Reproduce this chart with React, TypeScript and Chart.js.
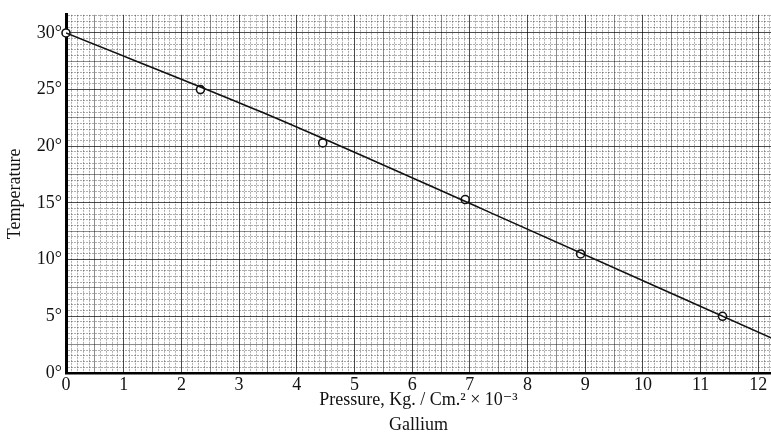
import React, { useEffect, useRef } from "react";
import { Chart, registerables } from "chart.js";

Chart.register(...registerables);

// Measured points (Pressure, Kg./Cm.² × 10⁻³ ; Temperature °C)
const pressure = [0, 2.33, 4.45, 6.92, 8.92, 11.38];
const temperature = [30, 25, 20.3, 15.3, 10.5, 5.0];

// Drawn curve through the points
const curvePressure = [0, 3.4, 7.2, 12.22];
const curveTemperature = [30, 23.0, 14.5, 3.1];

const xTickLabels = ["0", "1", "2", "3", "4", "5", "6", "7", "8", "9", "10", "11", "12"];
const yTickLabels = ["0°", "5°", "10°", "15°", "20°", "25°", "30°"];

const X_MAX = 12.22;
const Y_MAX = 31.6;
const FONT = "'Liberation Serif', 'DejaVu Serif', serif";

function level(v: number, major: number) {
  const r = v / major;
  if (Math.abs(r - Math.round(r)) < 1e-6) return 2;
  const h = v / (major / 2);
  if (Math.abs(h - Math.round(h)) < 1e-6) return 1;
  return 0;
}
const LEVEL_COLORS = ["rgba(0,0,0,0.32)", "rgba(0,0,0,0.45)", "rgba(0,0,0,0.7)"];

export default function App() {
  const ref = useRef<HTMLCanvasElement | null>(null);

  useEffect(() => {
    document.body.style.margin = "0";
    const canvas = ref.current;
    if (!canvas) return;
    const chart = new Chart(canvas, {
      type: "scatter",
      data: {
        datasets: [
          {
            label: "curve",
            data: curvePressure.map((x, i) => ({ x, y: curveTemperature[i] })),
            showLine: true,
            borderColor: "#111",
            borderWidth: 1.6,
            pointRadius: 0,
            cubicInterpolationMode: "monotone",
            fill: false,
          } as any,
          {
            label: "Gallium",
            data: pressure.map((x, i) => ({ x, y: temperature[i] })),
            showLine: false,
            clip: false,
            pointRadius: 4,
            pointBorderWidth: 1.6,
            pointBorderColor: "#111",
            pointBackgroundColor: "#fff",
          } as any,
        ],
      },
      options: {
        animation: false,
        responsive: false,
        maintainAspectRatio: false,
        layout: { autoPadding: false, padding: { top: 14, right: 0, left: 0, bottom: 0 } },
        plugins: { legend: { display: false }, tooltip: { enabled: false } },
        scales: {
          x: {
            type: "linear",
            min: 0,
            max: X_MAX,
            afterBuildTicks: (axis: any) => {
              const t = [];
              for (let i = 0; i <= Math.floor(X_MAX * 10 + 1e-6); i++) t.push({ value: i / 10 });
              axis.ticks = t;
            },
            afterFit: (axis: any) => {
              axis.height = 60;
            },
            ticks: {
              autoSkip: false,
              maxRotation: 0,
              padding: 1,
              color: "#111",
              font: { family: FONT, size: 18 },
              callback: (v: any) => {
                const r = Math.round(Number(v));
                if (Math.abs(Number(v) - r) < 1e-6) return xTickLabels[r] ?? "";
                return "";
              },
            },
            grid: {
              drawTicks: false,
              color: (ctx: any) => LEVEL_COLORS[level(ctx.tick ? ctx.tick.value : 0, 1)],
              lineWidth: 1,
            },
            border: {
              display: true,
              color: "#000",
              width: 2.5,
              dash: (ctx: any) => (ctx.tick && level(ctx.tick.value, 1) === 0 ? [2, 1] : []),
            } as any,
            title: {
              display: true,
              text: ["Pressure, Kg. / Cm.² × 10⁻³", "Gallium"],
              color: "#111",
              font: { family: FONT, size: 18, lineHeight: 1.4 },
              padding: { top: 0, bottom: -5 },
            },
          },
          y: {
            type: "linear",
            min: 0,
            max: Y_MAX,
            afterBuildTicks: (axis: any) => {
              const t = [];
              for (let i = 0; i <= Math.floor(Y_MAX * 2 + 1e-6); i++) t.push({ value: i / 2 });
              axis.ticks = t;
            },
            afterFit: (axis: any) => {
              axis.width = 66;
            },
            ticks: {
              autoSkip: false,
              padding: 4,
              color: "#111",
              font: { family: FONT, size: 18 },
              callback: (v: any) => {
                const n = Number(v) / 5;
                const r = Math.round(n);
                if (Math.abs(n - r) < 1e-6) return yTickLabels[r] ?? "";
                return "";
              },
            },
            grid: {
              drawTicks: false,
              color: (ctx: any) => LEVEL_COLORS[level(ctx.tick ? ctx.tick.value : 0, 5)],
              lineWidth: 1,
            },
            border: {
              display: true,
              color: "#000",
              width: 3,
              dash: (ctx: any) => (ctx.tick && level(ctx.tick.value, 5) === 0 ? [2, 1] : []),
            } as any,
            title: {
              display: true,
              text: "Temperature",
              color: "#111",
              font: { family: FONT, size: 18 },
              padding: { top: 4, bottom: 0 },
            },
          },
        },
      },
    });
    return () => chart.destroy();
  }, []);

  return (
    <div style={{ width: 771, height: 433, background: "#fff" }}>
      <canvas ref={ref} width={771} height={433} style={{ display: "block" }} />
    </div>
  );
}
